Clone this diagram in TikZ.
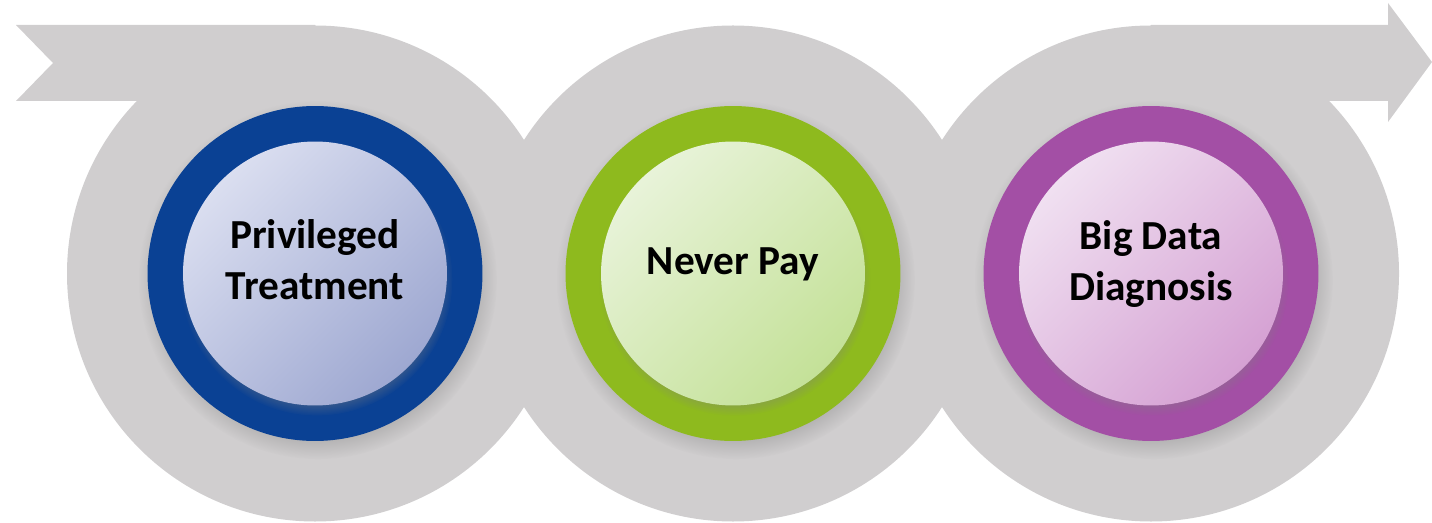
\documentclass[tikz,border=0pt]{standalone}
\usepackage{fontspec}
\setmainfont{Carlito}
\usetikzlibrary{shadows}
\definecolor{bandgray}{HTML}{D0CECF}
\definecolor{ringblue}{HTML}{0A4194}
\definecolor{liteblue}{HTML}{DADEF0}
\definecolor{deepblue}{HTML}{9EA8D1}
\definecolor{ringgreen}{HTML}{8EBA1E}
\definecolor{litegreen}{HTML}{E8F3D9}
\definecolor{deepgreen}{HTML}{C4E198}
\definecolor{ringpurple}{HTML}{A34FA5}
\definecolor{litepurple}{HTML}{F0E0F1}
\definecolor{deeppurple}{HTML}{D5A1D3}
\begin{document}
\begin{tikzpicture}[x=0.02cm,y=-0.02cm,
    every node/.style={font=\fontsize{23.5}{29}\selectfont\bfseries,align=center,inner sep=0pt},
    ringdisc/.style={circle,minimum size=6.7cm,
        circular drop shadow={shadow scale=1.07,shadow xshift=.05cm,shadow yshift=-.12cm,opacity=.45}},
    litedisc/.style={circle,minimum size=5.28cm,
        circular drop shadow={shadow scale=1.03,shadow xshift=.03cm,shadow yshift=-.12cm,opacity=.6}}]
    \useasboundingbox (0,0) rectangle (1432,523);
    % grey tail and arrow head
    \fill[bandgray] (16,25) -- (315,25) -- (315,101) -- (16,101) -- (53,63) -- cycle;
    \fill[bandgray] (1151,25) -- (1388,25) -- (1388,3) -- (1432,62) -- (1388,122)
        -- (1388,101) -- (1151,101) -- cycle;
    \foreach \cx in {315,733,1151}
        \fill[bandgray] (\cx,273.5) circle [radius=248];
    % coloured rings and their discs
    \foreach \cx/\tag/\ty/\txt in {315/blue/260/{Privileged\\Treatment},
                                   733/green/264/{Never Pay},
                                   1151/purple/264/{Big Data\\Diagnosis}} {
        \node[ringdisc,fill=ring\tag] (ring-\tag) at (\cx,273.5) {};
        \node[litedisc,top color=lite\tag,bottom color=deep\tag,shading angle=45] (disc-\tag) at (\cx,273.5) {};
        \node (label-\tag) at (\cx,\ty) {\txt};
    }
\end{tikzpicture}
\end{document}
